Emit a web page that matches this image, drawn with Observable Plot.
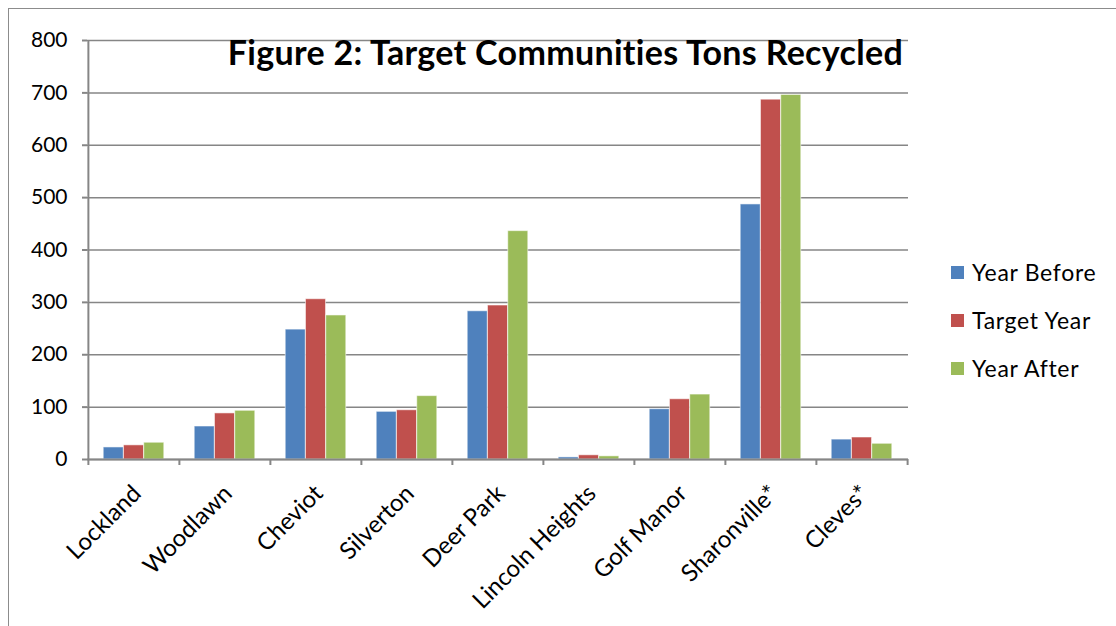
<!DOCTYPE html>
<html>
<head>
<meta charset="utf-8">
<script src="https://cdn.jsdelivr.net/npm/d3@7"></script>
<script src="https://cdn.jsdelivr.net/npm/@observablehq/plot@0.6"></script>
<style>
  html, body { margin: 0; padding: 0; background: #fff; overflow: hidden; }
  body { width: 1116px; height: 626px; position: relative; font-family: Lato, "Open Sans", sans-serif; }
  #border { position: absolute; left: 8px; top: 8px; width: 1300px; height: 800px; border-left: 1.5px solid #8c8c8c; border-top: 1.5px solid #8c8c8c; }
  #chart { position: absolute; left: 0; top: 0; }
  #title { position: absolute; right: 213px; top: 31px; font-weight: bold; font-size: 34px; letter-spacing: 0.3px; color: #000; white-space: nowrap; }
  #legend { position: absolute; left: 951px; top: 248px; }
  .item { display: flex; align-items: center; height: 48px; font-size: 23px; letter-spacing: 0.7px; color: #000; }
  .sw { width: 13px; height: 13px; margin-right: 8px; }
</style>
</head>
<body>
<div id="border"></div>
<div id="chart"></div>
<div id="title">Figure 2: Target Communities Tons Recycled</div>
<div id="legend"></div>
<script>
const categories = ["Lockland", "Woodlawn", "Cheviot", "Silverton", "Deer Park", "Lincoln Heights", "Golf Manor", "Sharonville*", "Cleves*"];
const series = ["Year Before", "Target Year", "Year After"];
const colors = ["#4F81BD", "#C0504D", "#9BBB59"];
const yearBefore = [23, 63, 248, 91, 283, 4, 96, 487, 38];
const targetYear = [27, 88, 306, 94, 294, 8, 115, 687, 42];
const yearAfter  = [32, 93, 275, 121, 436, 6, 124, 696, 30];
const yTicks = [0, 100, 200, 300, 400, 500, 600, 700, 800];

const valuesBySeries = [yearBefore, targetYear, yearAfter];
const data = [];
series.forEach((s, si) => categories.forEach((c, ci) => data.push({category: c, series: s, value: valuesBySeries[si][ci]})));

const W = 1116, H = 626;
const mL = 87, mR = 208, mT = 40, mB = 167;
const bw = (W - mL - mR) / categories.length;   // band width per category
const step = bw / 4.5;                           // gap width 150%
const pad = 0.75 * step;
const grey = "#868686";

const barMarks = series.map((s, i) => Plot.barY(data.filter(d => d.series === s), {
  x: "category", y: "value", fill: "series",
  insetLeft: pad + i * step, insetRight: bw - pad - (i + 1) * step,
  stroke: "#ffffff", strokeOpacity: 0.55, strokeWidth: 1
}));

const chart = Plot.plot({
  width: W, height: H,
  marginLeft: mL, marginRight: mR, marginTop: mT, marginBottom: mB,
  style: {fontFamily: "Lato, 'Open Sans', sans-serif", background: "transparent", overflow: "visible"},
  x: {domain: categories, padding: 0, label: null},
  y: {domain: [0, 800], label: null},
  color: {domain: series, range: colors},
  marks: [
    Plot.gridY(yTicks, {stroke: grey, strokeOpacity: 1, strokeWidth: 1.5}),
    ...barMarks,
    Plot.ruleY([0], {stroke: grey, strokeWidth: 2}),
    Plot.ruleX([categories[0]], {x: d => d, dx: -bw / 2, y1: 0, y2: 800, stroke: grey, strokeWidth: 2}),
    Plot.ruleX(categories, {x: d => d, dx: -bw / 2, y1: 0, y2: 0, insetBottom: -6, stroke: grey, strokeWidth: 2}),
    Plot.ruleX([categories[categories.length - 1]], {x: d => d, dx: bw / 2, y1: 0, y2: 0, insetBottom: -6, stroke: grey, strokeWidth: 2}),
    Plot.axisY(yTicks, {tickSize: 5, tickPadding: 15, fontSize: 21, fill: "#000", stroke: grey, strokeWidth: 2, strokeOpacity: 1}),
    Plot.axisX({tickRotate: -45, tickSize: 0, tickPadding: 30, fontSize: 24, fill: "#000", dx: 3})
  ]
});
document.getElementById("chart").appendChild(chart);

const legend = document.getElementById("legend");
series.forEach((s, i) => {
  const row = document.createElement("div");
  row.className = "item";
  const sw = document.createElement("div");
  sw.className = "sw";
  sw.style.background = colors[i];
  row.appendChild(sw);
  row.appendChild(document.createTextNode(s));
  legend.appendChild(row);
});
</script>
</body>
</html>
